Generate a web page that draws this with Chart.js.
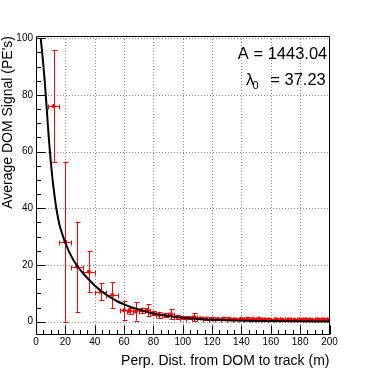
<!DOCTYPE html>
<html>
<head>
<meta charset="utf-8">
<script src="https://cdn.jsdelivr.net/npm/chart.js@4.4.1/dist/chart.umd.min.js"></script>
<style>
html,body{margin:0;padding:0;background:#ffffff;}
canvas{display:block;}
</style>
</head>
<body>
<canvas id="c" width="367" height="374"></canvas>
<script>
// ---- data ----
const distances = [12, 20, 28, 36, 44, 52, 60, 64, 68, 72, 76, 80, 84, 88, 92, 96, 100, 104, 108, 112, 116, 120, 124, 128, 132, 136, 140, 144, 148, 152, 156, 160, 164, 168, 172, 176, 180, 184, 188, 192, 196, 200];
const signals   = [76.1, 28.2, 19.4, 17.6, 10.6, 9.4, 4.0, 3.8, 3.6, 4.0, 4.1, 3.1, 2.4, 2.4, 2.6, 1.7, 1.4, 1.4, 1.6, 1.2, 1.1, 1.1, 1.0, 1.1, 1.0, 0.9, 1.0, 1.1, 1.0, 1.1, 0.9, 0.8, 0.9, 0.8, 0.9, 0.8, 0.9, 0.9, 0.8, 0.9, 0.9, 0.8];
const signalErr = [19.7, 28.3, 15.9, 7.2, 2.9, 4.6, 3.3, 1.2, 3.2, 1.0, 2.1, 0.8, 1.1, 0.7, 1.8, 0.6, 0.5, 0.5, 1.5, 0.4, 0.4, 0.4, 0.3, 0.4, 0.3, 0.3, 0.3, 0.4, 0.3, 0.3, 0.3, 0.3, 0.3, 0.3, 0.3, 0.3, 0.3, 0.3, 0.3, 0.3, 0.3, 0.3];
const distErr   = [4, 4, 4, 4, 4, 4, 3, 2, 2, 2, 2, 2, 2, 2, 2, 2, 2, 2, 2, 2, 2, 2, 2, 2, 2, 2, 2, 2, 2, 2, 2, 2, 2, 2, 2, 2, 2, 2, 2, 2, 2, 2];

// fitted curve
const fitX = [3.2, 4, 5, 6, 7, 8, 9, 10, 11, 12, 13, 14, 16, 18, 20, 23, 26, 30, 35, 40, 45, 50, 55, 60, 65, 70, 80, 90, 100, 110, 120, 135, 150, 175, 200];
const fitY = [100, 96, 90.5, 84.5, 77.5, 70, 63, 57, 51.5, 47, 43, 39.5, 34.2, 30.7, 27.8, 24.2, 21.3, 18.4, 15.4, 12.8, 10.6, 8.8, 7.3, 6.1, 5.1, 4.3, 2.9, 2.0, 1.35, 0.95, 0.68, 0.42, 0.27, 0.13, 0.07];

const xTicks = [0, 20, 40, 60, 80, 100, 120, 140, 160, 180, 200];
const yTicks = [0, 20, 40, 60, 80, 100];
const xMinorStep = 5;
const yMinorStep = 5;

const fitLine1 = 'A = 1443.04';
const fitSymbol = '\u03BB';
const fitSub = '0';
const fitLine2 = '= 37.23';

const FONT = "'Liberation Sans', Arial, Helvetica, sans-serif";

// ---- plugins ----
const gridPlugin = {
  id: 'rootGrid',
  beforeDatasetsDraw(chart) {
    const {ctx, chartArea: a, scales: {x, y}} = chart;
    ctx.save();
    ctx.strokeStyle = '#8a8a8a';
    ctx.lineWidth = 1;
    ctx.setLineDash([1, 2]);
    for (const v of xTicks) {
      const px = Math.round(x.getPixelForValue(v)) + 0.5;
      if (px <= a.left + 1 || px >= a.right - 1) continue;
      ctx.beginPath(); ctx.moveTo(px, a.top); ctx.lineTo(px, a.bottom); ctx.stroke();
    }
    for (const v of yTicks) {
      const py = Math.round(y.getPixelForValue(v)) + 0.5;
      if (py <= a.top + 1 || py >= a.bottom - 1) continue;
      ctx.beginPath(); ctx.moveTo(a.left, py); ctx.lineTo(a.right, py); ctx.stroke();
    }
    ctx.restore();

    // error bars
    ctx.save();
    ctx.strokeStyle = '#ff0000';
    ctx.lineWidth = 1;
    ctx.beginPath();
    ctx.rect(a.left, a.top, a.right - a.left, a.bottom - a.top);
    ctx.clip();
    const cap = 2;
    for (let i = 0; i < distances.length; i++) {
      const cx = x.getPixelForValue(distances[i]);
      const cy = y.getPixelForValue(signals[i]);
      const yTop = y.getPixelForValue(signals[i] + signalErr[i]);
      const yBot = y.getPixelForValue(signals[i] - signalErr[i]);
      const xL = x.getPixelForValue(distances[i] - distErr[i]);
      const xR = x.getPixelForValue(distances[i] + distErr[i]);
      const sx = Math.round(cx) + 0.5;
      const sy = Math.round(cy) + 0.5;
      ctx.beginPath();
      ctx.moveTo(sx, yTop); ctx.lineTo(sx, yBot);
      ctx.moveTo(sx - cap, Math.round(yTop) + 0.5); ctx.lineTo(sx + cap + 1, Math.round(yTop) + 0.5);
      ctx.moveTo(sx - cap, Math.round(yBot) + 0.5); ctx.lineTo(sx + cap + 1, Math.round(yBot) + 0.5);
      ctx.moveTo(xL, sy); ctx.lineTo(xR, sy);
      ctx.moveTo(Math.round(xL) + 0.5, sy - cap); ctx.lineTo(Math.round(xL) + 0.5, sy + cap + 1);
      ctx.moveTo(Math.round(xR) + 0.5, sy - cap); ctx.lineTo(Math.round(xR) + 0.5, sy + cap + 1);
      ctx.stroke();
    }
    ctx.restore();
  },
  afterDatasetsDraw(chart) {
    const {ctx, chartArea: a, scales: {x, y}} = chart;
    ctx.save();
    ctx.strokeStyle = '#000';
    ctx.lineWidth = 1;
    const L = Math.round(a.left) + 0.5, R = Math.round(a.right) - 0.5;
    const T = Math.round(a.top) + 0.5, B = Math.round(a.bottom) - 0.5;
    ctx.beginPath();
    ctx.rect(L, T, R - L, B - T);
    ctx.stroke();
    // tick marks pointing inward
    const majorLen = 9, minorLen = 4.5;
    ctx.beginPath();
    for (let v = xTicks[0]; v <= xTicks[xTicks.length - 1] + 1e-9; v += xMinorStep) {
      const px = Math.round(x.getPixelForValue(v)) + 0.5;
      const len = xTicks.includes(v) ? majorLen : minorLen;
      ctx.moveTo(px, B); ctx.lineTo(px, B - len);
    }
    for (let v = yTicks[0]; v <= yTicks[yTicks.length - 1] + 1e-9; v += yMinorStep) {
      const py = Math.round(y.getPixelForValue(v)) + 0.5;
      const len = yTicks.includes(v) ? majorLen : minorLen;
      ctx.moveTo(L, py); ctx.lineTo(L + len, py);
    }
    ctx.stroke();

    // fit parameter text
    ctx.fillStyle = '#000';
    ctx.textBaseline = 'alphabetic';
    ctx.textAlign = 'right';
    ctx.font = '16.5px ' + FONT;
    ctx.fillText(fitLine1, 327.3, 59.3);
    ctx.fillText(fitLine2, 325.8, 85);
    ctx.textAlign = 'left';
    ctx.fillText(fitSymbol, 246, 85);
    ctx.font = '11px ' + FONT;
    ctx.fillText(fitSub, 252.5, 89);
    ctx.restore();
  }
};

const ctx = document.getElementById('c').getContext('2d');
new Chart(ctx, {
  type: 'scatter',
  data: {
    datasets: [
      {
        label: 'fit',
        data: fitX.map((v, i) => ({x: v, y: fitY[i]})),
        showLine: true,
        borderColor: '#000000',
        borderWidth: 2,
        pointRadius: 0,
        fill: false,
        cubicInterpolationMode: 'monotone',
        order: 0
      },
      {
        label: 'data',
        data: distances.map((v, i) => ({x: v, y: signals[i]})),
        showLine: false,
        pointStyle: 'circle',
        pointRadius: 2,
        backgroundColor: '#ff0000',
        borderColor: '#ff0000',
        borderWidth: 0,
        order: 1
      }
    ]
  },
  options: {
    responsive: false,
    animation: false,
    devicePixelRatio: 1,
    layout: { padding: { top: 36, right: 37.5, left: 0, bottom: 0 } },
    plugins: { legend: { display: false }, tooltip: { enabled: false } },
    scales: {
      x: {
        type: 'linear',
        min: 0,
        max: 200,
        afterBuildTicks: (s) => { s.ticks = xTicks.map(v => ({value: v})); },
        afterFit: (s) => { s.height = 39; },
        grid: { display: false, drawTicks: false },
        border: { display: false },
        ticks: { color: '#000', font: { family: FONT, size: 10 }, padding: 1, maxRotation: 0, autoSkip: false, includeBounds: false },
        title: {
          display: true,
          text: 'Perp. Dist. from DOM to track (m)',
          align: 'end',
          color: '#000',
          font: { family: FONT, size: 14 },
          padding: { top: 0, bottom: 4.6 }
        }
      },
      y: {
        type: 'linear',
        min: -4.7,
        max: 100.8,
        afterBuildTicks: (s) => { s.ticks = yTicks.map(v => ({value: v})); },
        afterFit: (s) => { s.width = 36; },
        grid: { display: false, drawTicks: false },
        border: { display: false },
        ticks: { color: '#000', font: { family: FONT, size: 10 }, padding: 3, autoSkip: false, includeBounds: false },
        title: {
          display: true,
          text: "Average DOM Signal (PE's)",
          align: 'end',
          color: '#000',
          font: { family: FONT, size: 14 },
          padding: { top: 0, bottom: 0 }
        }
      }
    }
  },
  plugins: [gridPlugin]
});
</script>
</body>
</html>
